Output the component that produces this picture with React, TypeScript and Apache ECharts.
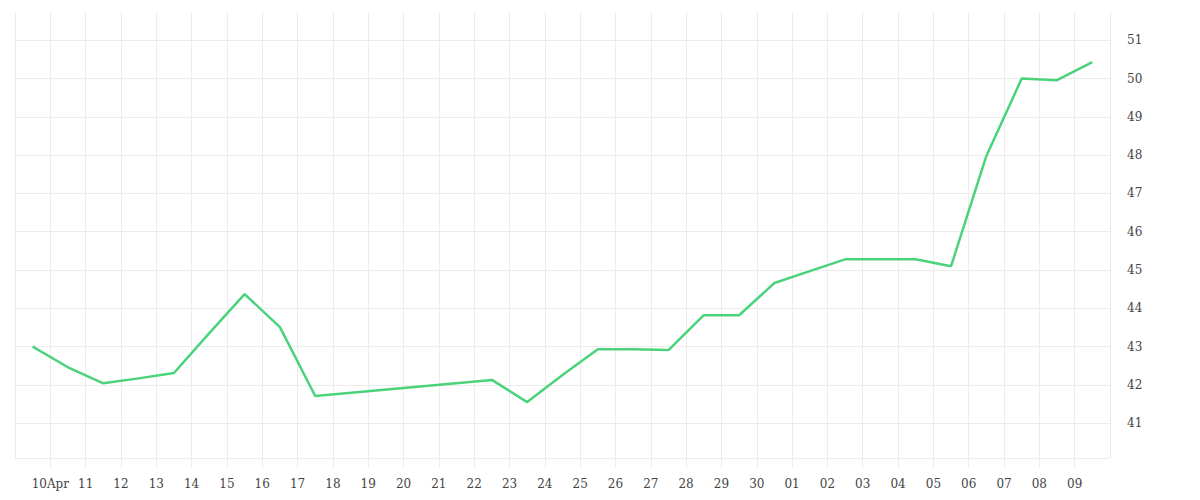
import React, { useEffect, useRef } from "react";
import * as echarts from "echarts";

// Data (dates are month-day in 2024, points sit at midday)
const dates: string[] = [
  "04-09", "04-10", "04-11", "04-12", "04-13", "04-14", "04-15", "04-16", "04-17",
  "04-22", "04-23", "04-24", "04-25", "04-26", "04-27", "04-28", "04-29", "04-30",
  "05-01", "05-02", "05-03", "05-04", "05-05", "05-06", "05-07", "05-08", "05-09",
];
const values: number[] = [
  43.0, 42.46, 42.04, 42.17, 42.31, 43.35, 44.37, 43.51, 41.71,
  42.13, 41.55, 42.26, 42.93, 42.93, 42.91, 43.82, 43.82, 44.66,
  44.97, 45.28, 45.28, 45.28, 45.1, 47.98, 50.0, 49.96, 50.43,
];
const monthNames: string[] = ["Jan", "Feb", "Mar", "Apr", "May", "Jun", "Jul", "Aug", "Sep", "Oct", "Nov", "Dec"];

const YEAR = 2024;
const DAY = 86400000;
const xMin = Date.UTC(YEAR, 3, 9);
const xMax = Date.UTC(YEAR, 4, 10);
const yMin = 40.09;
const yMax = 51.74;

const toTime = (md: string) => {
  const [m, d] = md.split("-").map(Number);
  return Date.UTC(YEAR, m - 1, d, 12);
};

export default function App() {
  const ref = useRef<HTMLDivElement>(null);
  useEffect(() => {
    if (!ref.current) return;
    const chart = echarts.init(ref.current, undefined, { renderer: "svg" });
    const grid = "#ececec";
    chart.setOption({
      animation: false,
      backgroundColor: "#ffffff",
      textStyle: { fontFamily: "DejaVu Serif" },
      grid: { left: 15, right: 90, top: 12, bottom: 42, containLabel: false },
      xAxis: {
        type: "value",
        min: xMin,
        max: xMax,
        interval: DAY,
        axisLine: { show: true, lineStyle: { color: grid, width: 1 } },
        axisTick: { show: true, length: 10, lineStyle: { color: grid, width: 1 } },
        splitLine: { show: true, lineStyle: { color: grid, width: 1 } },
        axisLabel: {
          show: true,
          showMinLabel: false,
          showMaxLabel: false,
          margin: 20,
          fontSize: 12,
          color: "#444",
          fontFamily: "DejaVu Serif",
          formatter: (v: number) => {
            const d = new Date(v);
            const day = String(d.getUTCDate()).padStart(2, "0");
            if (v === xMin + DAY) return day + monthNames[d.getUTCMonth()];
            return day;
          },
        },
      },
      yAxis: {
        type: "value",
        position: "right",
        min: yMin,
        max: yMax,
        splitNumber: 10,
        axisLine: { show: false },
        axisTick: { show: false },
        splitLine: {
          show: true,
          showMinLine: false,
          showMaxLine: false,
          lineStyle: { color: grid, width: 1 },
        },
        axisLabel: {
          show: true,
          showMinLabel: false,
          showMaxLabel: false,
          margin: 17,
          fontSize: 12,
          color: "#444",
          padding: [5, 0, 0, 0],
          fontFamily: "DejaVu Serif",
        },
      },
      series: [
        {
          type: "line",
          data: dates.map((d, i) => [toTime(d), values[i]]),
          showSymbol: false,
          symbol: "none",
          lineStyle: { color: "#4bd37b", width: 2.5 },
          itemStyle: { color: "#4bd37b" },
        },
      ],
    });
    return () => chart.dispose();
  }, []);
  return (
    <div
      ref={ref}
      style={{ position: "absolute", left: 0, top: 0, width: 1200, height: 500 }}
    />
  );
}
